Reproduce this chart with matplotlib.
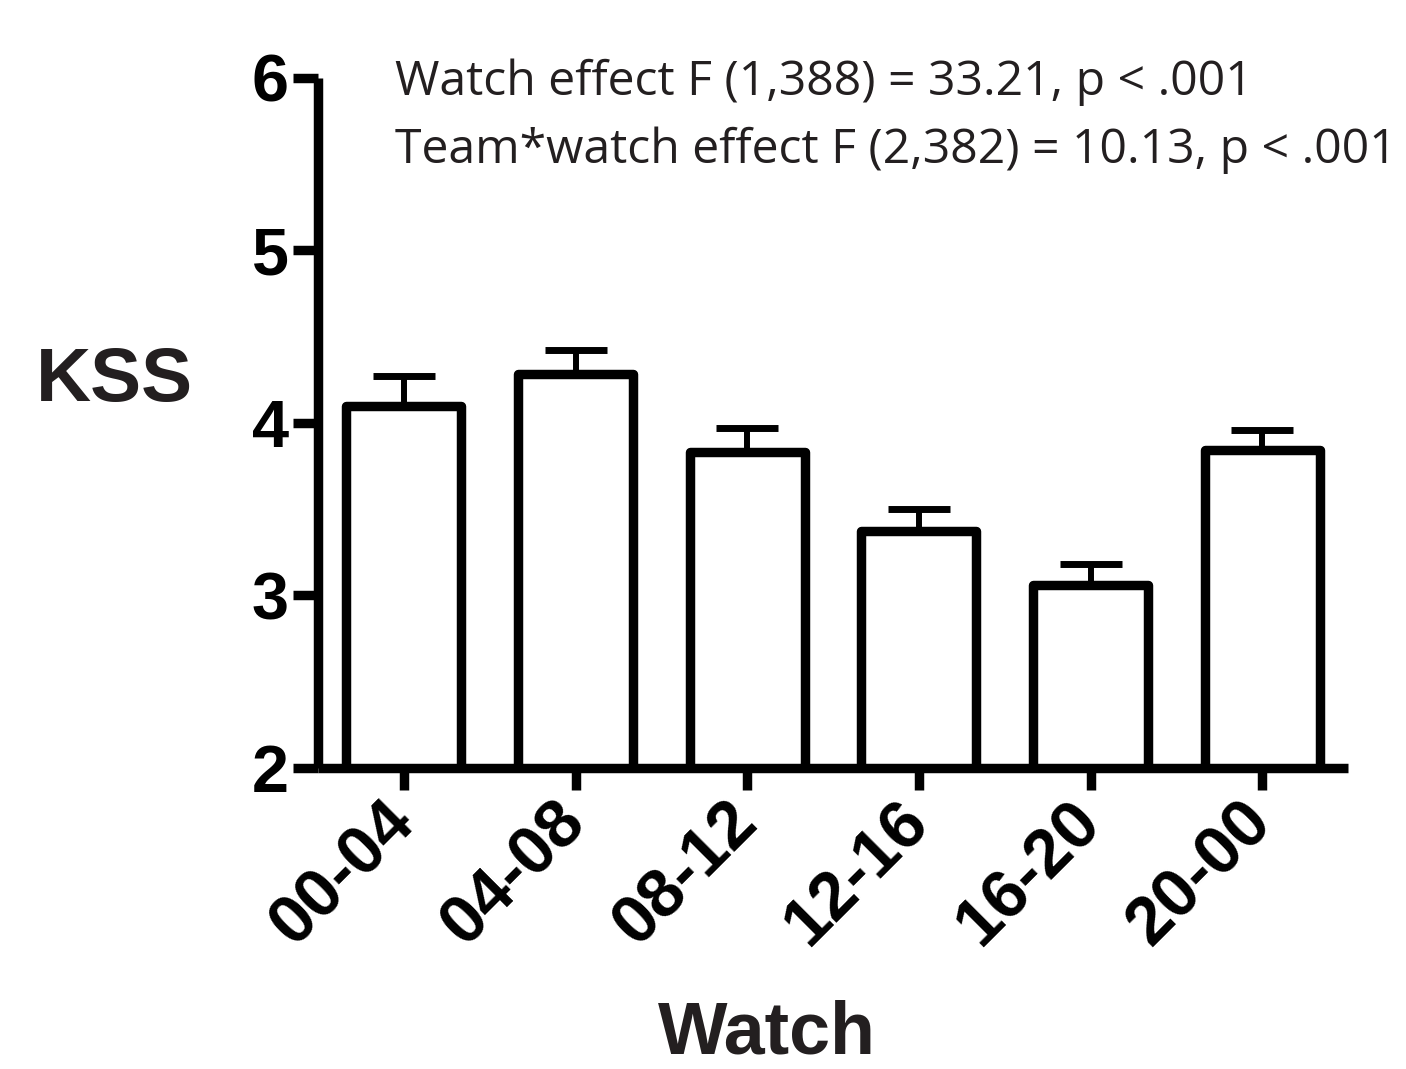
import matplotlib
matplotlib.use('Agg')
import matplotlib.pyplot as plt

# data
watches = ['00-04', '04-08', '08-12', '12-16', '16-20', '20-00']
kss_mean = [4.10, 4.28, 3.83, 3.37, 3.06, 3.84]
kss_sem = [0.17, 0.14, 0.14, 0.13, 0.12, 0.12]
yticks = [2, 3, 4, 5, 6]
stats_lines = ['Watch effect F (1,388) = 33.21, p < .001',
               'Team*watch effect F (2,382) = 10.13, p < .001']

plt.rcParams['font.family'] = ['Liberation Sans', 'DejaVu Sans']
plt.rcParams['font.weight'] = 'bold'

W, H = 1406, 1069
fig = plt.figure(figsize=(W / 100, H / 100), dpi=100)
ax = fig.add_axes([318 / W, 1 - 767.5 / H, (1348 - 318) / W, (767.5 - 78) / H])

lw = 6.8
x = list(range(len(watches)))
bars = ax.bar(x, kss_mean, width=0.67, color='white', edgecolor='black',
              linewidth=lw, zorder=2)
for b in bars:
    b.set_joinstyle('round')

ax.errorbar(x, kss_mean, yerr=[[0] * len(x), kss_sem], fmt='none',
            ecolor='black', elinewidth=4.3, capsize=22, capthick=5, zorder=1)

ax.set_xlim(-0.5, 5.5)
ax.set_ylim(2, 6)
ax.set_yticks(yticks)
ax.set_xticks(x)
ax.set_xticklabels(watches, rotation=45, ha='right', va='center',
                   rotation_mode='anchor', fontsize=49, fontweight='bold')
ax.set_yticklabels([str(t) for t in yticks], fontsize=48, fontweight='bold')

for side in ['top', 'right']:
    ax.spines[side].set_visible(False)
for side in ['left', 'bottom']:
    ax.spines[side].set_linewidth(lw)
    ax.spines[side].set_capstyle('butt')

ax.tick_params(axis='y', length=18, width=lw, pad=3)
ax.tick_params(axis='x', length=16, width=lw, pad=16)

# axis titles
fig.text(114 / W, 1 - 381 / H, 'KSS', fontsize=55, fontweight='bold',
         color='#231f20', ha='center', va='center')
fig.text(767 / W, 1 - 1054 / H, 'Watch', fontsize=53, fontweight='bold',
         color='#231f20', ha='center', va='baseline')

# statistics
for i, line in enumerate(stats_lines):
    fig.text(395 / W, 1 - (95 + 68 * i) / H, line, fontsize=34.7,
             family='Open Sans', fontweight='normal', color='#231f20',
             ha='left', va='baseline')

fig.savefig('out.png', dpi=100)
